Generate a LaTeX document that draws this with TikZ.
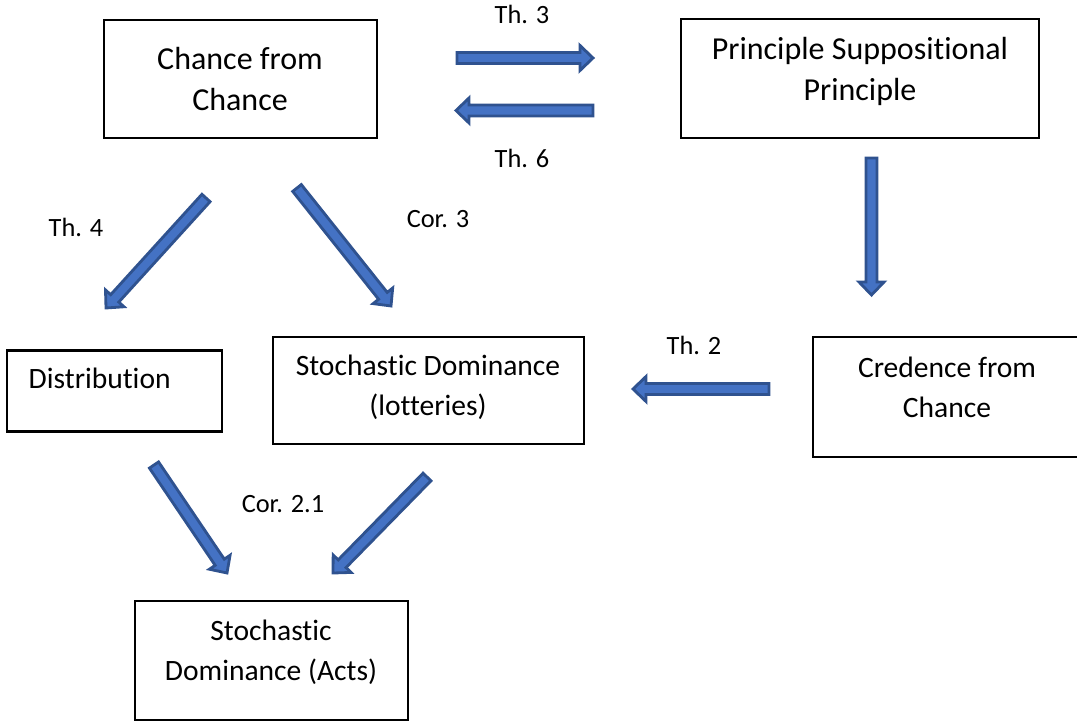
\documentclass[tikz,border=0pt]{standalone}
\usepackage{fontspec}
\setmainfont[Ligatures=NoCommon]{Carlito}
\usepackage{tikz}
\usetikzlibrary{calc,positioning}

\definecolor{arrfill}{HTML}{4472C4}
\definecolor{arrline}{HTML}{2F528F}

% block arrow from #1 to #2 (named coordinates)
\newcommand{\blockarrow}[2]{%
  \coordinate (hb) at ($(#2)!1.3mm!(#1)$);
  \draw[blockarr] ($(#1)!0.55mm!90:(#2)$) -- ($(hb)!0.55mm!-90:(#1)$) -- ($(hb)!1.25mm!-90:(#1)$)
    -- (#2) -- ($(hb)!1.25mm!90:(#1)$) -- ($(hb)!0.55mm!90:(#1)$) -- ($(#1)!0.55mm!-90:(#2)$) -- cycle;}

\begin{document}
\begin{tikzpicture}[x=0.01cm, y=-0.01cm,
  box/.style={draw,line width=0.7pt,inner sep=0pt},
  txt/.style={align=center,inner sep=0pt,font=\fontsize{8.4}{11.5}\selectfont,anchor=north},
  bigtxt/.style={txt,font=\fontsize{9.1}{11.6}\selectfont},
  lbl/.style={inner sep=0pt,anchor=base,font=\fontsize{7.5}{9}\selectfont},
  blockarr/.style={fill=arrfill,draw=arrline,line width=0.8pt,line join=miter}]
\useasboundingbox (0,0) rectangle (1077,722);
% boxes
\node[box,minimum width=2.73cm,minimum height=1.18cm] (cfc) at (240.5,79) {};
\node[box,minimum width=3.58cm,minimum height=1.19cm] (psp) at (860,78.5) {};
\node[box,minimum width=2.15cm,minimum height=0.81cm] (dist) at (114.5,391) {};
\node[box,minimum width=3.11cm,minimum height=1.07cm] (sdl) at (428.5,390.5) {};
\node[box,minimum width=2.69cm,minimum height=1.20cm] (cred) at (947.5,397) {};
\node[box,minimum width=2.73cm,minimum height=1.19cm] (acts) at (271.5,660.5) {};
% box texts
\node[bigtxt] (cfc-t) at (240,47) {Chance from\\Chance};
\node[bigtxt] (psp-t) at (860,37) {Principle Suppositional\\Principle};
\node[txt,anchor=north west] (dist-t) at (28,367) {Distribution};
\node[txt] (sdl-t) at (428,354) {Stochastic Dominance\\(lotteries)};
\node[txt] (cred-t) at (947,356) {Credence from\\Chance};
\node[txt] (acts-t) at (271,619) {Stochastic\\Dominance (Acts)};
% arrow ends
\coordinate (a1s) at (457,58);  \coordinate (a1e) at (593,58);
\coordinate (a2s) at (593,110.5); \coordinate (a2e) at (456,110.5);
\coordinate (a3s) at (871.5,158); \coordinate (a3e) at (871.5,295);
\coordinate (a4s) at (206,198); \coordinate (a4e) at (106,308);
\coordinate (a5s) at (297,188); \coordinate (a5e) at (391,306);
\coordinate (a6s) at (769,389); \coordinate (a6e) at (633,389);
\coordinate (a7s) at (154,465); \coordinate (a7e) at (227,573);
\coordinate (a8s) at (427,477); \coordinate (a8e) at (333,573);
\blockarrow{a1s}{a1e}
\blockarrow{a2s}{a2e}
\blockarrow{a3s}{a3e}
\blockarrow{a4s}{a4e}
\blockarrow{a5s}{a5e}
\blockarrow{a6s}{a6e}
\blockarrow{a7s}{a7e}
\blockarrow{a8s}{a8e}
% labels
\node[lbl] (l1) at (522,24) {Th. 3};
\node[lbl] (l2) at (522,168) {Th. 6};
\node[lbl] (l3) at (76,237) {Th. 4};
\node[lbl] (l4) at (438,228) {Cor. 3};
\node[lbl] (l5) at (694,355) {Th. 2};
\node[lbl] (l6) at (283,512) {Cor. 2.1};
\end{tikzpicture}
\end{document}
